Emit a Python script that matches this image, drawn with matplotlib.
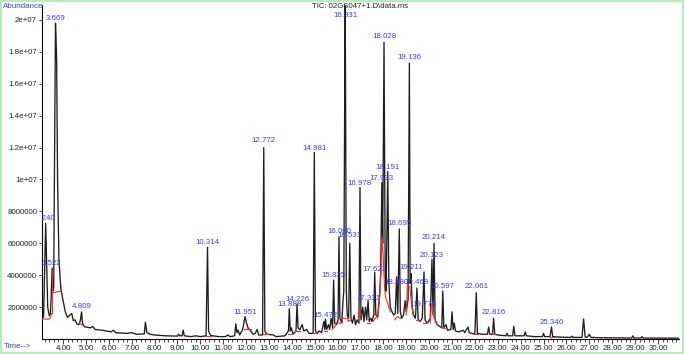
import matplotlib
matplotlib.use("Agg")
import matplotlib.pyplot as plt
from matplotlib.patches import Rectangle
import numpy as np

# TIC trace vertices: (time in min, abundance in millions)
trace_points = [
    (3.08, 1.25), (3.15, 1.4), (3.20, 4.5), (3.24, 7.25), (3.28, 5.0), (3.33, 2.0),
    (3.40, 1.45), (3.45, 1.6), (3.49, 3.0), (3.522, 4.45), (3.55, 3.0), (3.59, 3.2),
    (3.63, 12.0), (3.669, 19.8), (3.69, 19.0), (3.72, 17.5), (3.76, 10.0), (3.82, 5.0),
    (3.90, 3.2), (4.00, 2.4), (4.10, 1.7), (4.20, 1.35), (4.30, 1.5), (4.38, 1.6),
    (4.45, 1.15), (4.52, 1.2), (4.60, 0.95), (4.70, 0.9), (4.76, 1.2), (4.809, 1.7),
    (4.85, 1.0), (4.92, 0.8), (5.0, 0.75), (5.2, 0.7), (5.3, 0.78), (5.4, 0.6),
    (5.7, 0.55), (6.1, 0.45), (6.2, 0.55), (6.3, 0.4), (6.8, 0.35), (7.0, 0.4),
    (7.2, 0.3), (7.55, 0.32), (7.6, 1.05), (7.66, 0.4), (7.8, 0.3), (8.0, 0.25),
    (8.5, 0.2), (9.0, 0.18), (9.05, 0.3), (9.1, 0.2), (9.2, 0.2), (9.25, 0.55),
    (9.3, 0.2), (9.6, 0.15), (9.8, 0.2), (10.0, 0.15), (10.25, 0.2), (10.314, 5.75),
    (10.36, 0.5), (10.45, 0.22), (10.8, 0.15), (11.1, 0.15), (11.2, 0.25), (11.3, 0.15),
    (11.5, 0.2), (11.55, 0.95), (11.6, 0.4), (11.65, 0.55), (11.72, 0.25), (11.85, 0.6),
    (11.951, 1.4), (12.02, 1.0), (12.1, 0.65), (12.2, 0.5), (12.3, 0.3), (12.4, 0.35),
    (12.48, 0.6), (12.55, 0.25), (12.72, 0.25), (12.772, 12.0), (12.82, 0.5), (12.9, 0.3),
    (13.2, 0.25), (13.3, 0.15), (13.7, 0.2), (13.85, 0.5), (13.888, 1.9), (13.93, 0.5),
    (13.98, 0.7), (14.05, 0.3), (14.18, 0.5), (14.226, 2.2), (14.27, 0.7), (14.35, 0.6),
    (14.45, 0.9), (14.52, 0.5), (14.65, 0.6), (14.75, 0.35), (14.93, 0.35), (14.981, 11.7),
    (15.03, 0.5), (15.1, 0.35), (15.2, 0.5), (15.3, 0.4), (15.4, 1.1), (15.44, 0.6),
    (15.472, 1.25), (15.52, 0.6), (15.6, 0.9), (15.65, 0.6), (15.72, 1.3), (15.78, 0.7),
    (15.825, 3.7), (15.87, 1.0), (15.95, 0.9), (16.02, 1.2), (16.06, 6.4), (16.1, 1.3),
    (16.18, 1.0), (16.24, 2.5), (16.27, 3.0), (16.331, 21.5), (16.38, 3.0), (16.42, 1.5),
    (16.48, 1.3), (16.531, 6.0), (16.58, 1.3), (16.65, 1.0), (16.72, 1.5), (16.78, 0.9),
    (16.85, 1.2), (16.93, 1.0), (16.978, 9.5), (17.02, 1.2), (17.1, 2.0), (17.15, 1.1),
    (17.22, 2.0), (17.27, 1.2), (17.331, 2.4), (17.38, 1.1), (17.45, 1.3), (17.5, 1.1),
    (17.58, 1.5), (17.622, 4.2), (17.67, 1.5), (17.75, 1.4), (17.82, 2.5), (17.88, 4.0),
    (17.933, 9.8), (17.97, 6.0), (18.028, 18.6), (18.08, 4.0), (18.12, 3.0), (18.191, 10.5),
    (18.24, 3.5), (18.3, 2.0), (18.38, 1.7), (18.45, 1.5), (18.52, 1.6), (18.58, 3.9),
    (18.63, 1.6), (18.695, 6.9), (18.74, 1.7), (18.8, 1.3), (18.88, 1.5), (18.95, 2.4),
    (19.0, 1.7), (19.08, 2.5), (19.136, 17.3), (19.17, 3.5), (19.211, 4.1), (19.26, 2.0),
    (19.32, 1.5), (19.4, 1.3), (19.468, 3.2), (19.52, 1.2), (19.6, 1.1), (19.7, 1.3),
    (19.776, 4.2), (19.82, 1.2), (19.9, 1.0), (19.98, 1.1), (20.05, 1.3), (20.123, 5.0),
    (20.17, 1.5), (20.214, 6.0), (20.26, 1.2), (20.35, 0.9), (20.45, 0.8), (20.55, 0.7),
    (20.597, 3.0), (20.64, 0.7), (20.74, 0.9), (20.8, 0.55), (20.95, 0.6), (21.0, 1.7),
    (21.05, 0.6), (21.1, 1.0), (21.15, 0.5), (21.3, 0.45), (21.5, 0.55), (21.55, 0.4),
    (21.7, 0.75), (21.75, 0.4), (22.0, 0.3), (22.061, 2.9), (22.11, 0.35), (22.3, 0.3),
    (22.55, 0.3), (22.6, 0.75), (22.65, 0.3), (22.77, 0.3), (22.816, 1.3), (22.87, 0.3),
    (23.0, 0.25), (23.35, 0.2), (23.4, 0.35), (23.45, 0.2), (23.65, 0.2), (23.7, 0.8),
    (23.75, 0.2), (24.15, 0.2), (24.2, 0.45), (24.25, 0.2), (24.6, 0.15), (24.95, 0.15),
    (25.0, 0.35), (25.05, 0.15), (25.28, 0.15), (25.346, 0.75), (25.4, 0.15), (25.7, 0.12),
    (26.2, 0.1), (26.25, 0.18), (26.3, 0.1), (26.68, 0.1), (26.75, 1.25), (26.82, 0.12),
    (26.92, 0.12), (27.0, 0.3), (27.07, 0.1), (27.5, 0.08), (28.85, 0.06), (28.9, 0.2),
    (28.95, 0.06), (29.25, 0.06), (29.3, 0.15), (29.35, 0.06), (30.9, 0.05),
]

# labelled peaks (retention time) and the height the label sits on (millions)
peak_labels = ["3.240", "3.522", "3.669", "4.809", "10.314", "11.951", "12.772",
               "13.888", "14.226", "14.981", "15.472", "15.825", "16.060", "16.331",
               "16.531", "16.978", "17.331", "17.622", "17.933", "18.028", "18.191",
               "18.580", "18.695", "19.136", "19.211", "19.468", "19.776", "20.123",
               "20.214", "20.597", "22.061", "22.816", "25.346"]
label_heights = [7.3, 4.45, 19.8, 1.75, 5.8, 1.4, 12.2,
                 1.9, 2.2, 11.7, 1.2, 3.7, 6.5, 20.05,
                 6.2, 9.5, 2.3, 4.1, 9.8, 18.7, 10.5,
                 3.3, 7.0, 17.4, 4.2, 3.3, 1.9, 5.0,
                 6.1, 3.0, 3.0, 1.4, 0.75]

# integration baselines (red), each a short polyline of (time, millions)
red_lines = [
    [(3.1, 1.25), (3.42, 1.25), (3.5, 1.6), (3.54, 1.6), (3.54, 4.3)],
    [(3.55, 2.9), (3.92, 3.0), (3.92, 3.3)],
    [(4.72, 1.0), (4.95, 0.75)],
    [(10.2, 0.2), (10.5, 0.2)],
    [(11.9, 0.6), (12.2, 0.6)],
    [(12.72, 0.3), (12.95, 0.3)],
    [(13.85, 0.3), (13.95, 0.3)],
    [(14.15, 0.5), (14.35, 0.5)],
    [(14.93, 0.35), (15.1, 0.35)],
    [(15.42, 0.5), (15.55, 0.5)],
    [(15.75, 0.6), (15.9, 0.8), (15.9, 1.0)],
    [(16.0, 1.0), (16.2, 1.0), (16.2, 1.3), (16.45, 1.3), (16.45, 1.1), (16.6, 1.2)],
    [(16.93, 1.0), (16.95, 1.8), (17.05, 1.5)],
    [(17.28, 1.0), (17.4, 1.0)],
    [(17.55, 1.1), (17.7, 1.4)],
    [(17.75, 1.3), (17.85, 2.8), (17.9, 4.5), (17.95, 6.4), (18.0, 5.0), (18.05, 3.2),
     (18.1, 2.6), (18.2, 2.2), (18.3, 1.7)],
    [(18.5, 1.2), (18.6, 1.4), (18.75, 1.3)],
    [(19.0, 1.5), (19.05, 3.4), (19.15, 3.3), (19.25, 2.0), (19.3, 1.5)],
    [(19.42, 1.2), (19.55, 1.2)],
    [(19.72, 1.0), (19.85, 1.0)],
    [(20.05, 1.0), (20.1, 2.2), (20.15, 2.0), (20.2, 1.4), (20.3, 1.0)],
    [(20.55, 0.7), (20.7, 0.65)],
    [(22.0, 0.3), (22.15, 0.3)],
    [(22.75, 0.3), (22.9, 0.3)],
    [(25.3, 0.13), (25.45, 0.13)],
]

ytick_values = [2e6, 4e6, 6e6, 8e6, 1e7, 1.2e7, 1.4e7, 1.6e7, 1.8e7, 2e7]
ytick_labels = ["2000000", "4000000", "6000000", "8000000", "1e+07",
                "1.2e+07", "1.4e+07", "1.6e+07", "1.8e+07", "2e+07"]
xtick_values = np.arange(4, 31)

BLUE = "#3c3cff"
RED = "#ff2a2a"
FONT = "Liberation Sans"


def draw_chromatogram():
    plt.rcParams["font.family"] = [FONT, "DejaVu Sans"]
    fig = plt.figure(figsize=(6.85, 3.54), dpi=100)
    ax = fig.add_axes([42 / 685, 15 / 354, 637 / 685, 334 / 354])

    t, a = zip(*trace_points)
    ax.plot(t, np.array(a) * 1e6, color="#1e1e1e", lw=0.95, zorder=2)

    for seg in red_lines:
        st, sa = zip(*seg)
        ax.plot(st, np.array(sa) * 1e6, color=RED, lw=0.8, zorder=3)

    for lab, h in zip(peak_labels, label_heights):
        ax.annotate(lab, (float(lab), h * 1e6), xytext=(0, 0.5),
                    textcoords="offset points", ha="center", va="bottom",
                    fontsize=5.7, color=BLUE, clip_on=True, zorder=4)

    ax.set_xlim(3.08, 30.92)
    ax.set_ylim(0, 2.094e7)

    ax.set_xticks(xtick_values)
    ax.set_xticklabels([f"{v:.2f}" for v in xtick_values])
    ax.set_xticks(np.arange(3.2, 30.9, 0.2), minor=True)
    ax.set_yticks(ytick_values)
    ax.set_yticklabels(ytick_labels)

    ax.tick_params(axis="both", labelsize=5.7, direction="out", width=0.6,
                   colors="#222222", pad=1)
    ax.tick_params(axis="x", which="major", length=3.5)
    ax.tick_params(axis="x", which="minor", length=1.8, width=0.5)
    ax.tick_params(axis="y", length=2.5)

    for side in ["top", "right"]:
        ax.spines[side].set_visible(False)
    for side in ["left", "bottom"]:
        ax.spines[side].set_linewidth(0.8)

    fig.text(3 / 685, 1 - 6 / 354, "Abundance", color=BLUE, fontsize=5.8,
             ha="left", va="center")
    fig.text(4 / 685, 7 / 354, "Time-->", color=BLUE, fontsize=5.8,
             ha="left", va="center")
    fig.text(360 / 685, 1 - 6 / 354, "TIC: 02GS047+1.D\\data.ms", color="#222222",
             fontsize=5.6, ha="center", va="center")

    # light green frame around the whole picture
    fig.patches.append(Rectangle((0.002, 0.004), 0.995, 0.992, transform=fig.transFigure,
                                 fill=False, edgecolor="#b4f0b4", lw=1.5))

    fig.savefig("out.png", dpi=100)


if __name__ == "__main__":
    draw_chromatogram()
